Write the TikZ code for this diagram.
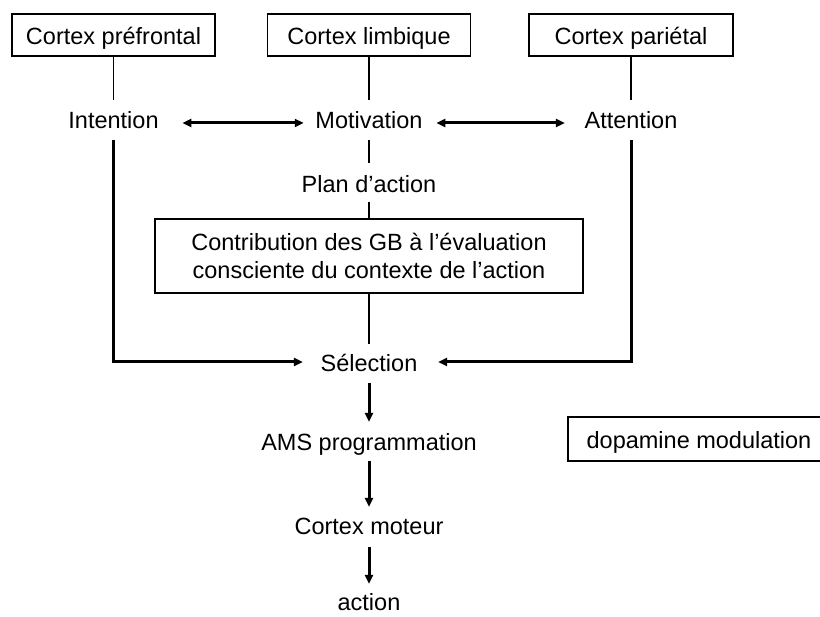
\documentclass[tikz,border=0pt]{standalone}
\usepackage{fontspec}
\setmainfont{Liberation Sans}
\usetikzlibrary{arrows.meta}
\begin{document}
\begin{tikzpicture}[x=1pt,y=-1pt,
  lbl/.style={inner sep=0pt, text height=17pt, text depth=5pt,
    font=\fontsize{23.5}{28}\selectfont, anchor=base},
  cbox/.style={draw, line width=1.6pt, inner sep=0pt, text height=20pt,
    text depth=0pt, font=\fontsize{23.5}{28}\selectfont, minimum height=42pt},
  thinln/.style={line width=1.2pt},
  heavy/.style={line width=3pt},
  headtip/.style={-{Triangle[length=9pt,width=8pt]}},
  twoway/.style={{Triangle[length=9pt,width=8pt]}-{Triangle[length=9pt,width=8pt]}},
]
\useasboundingbox (0,0) rectangle (820,617);

% cortical sources
\node[cbox, minimum width=203pt] (pf)  at (113.5,35) {Cortex préfrontal};
\node[cbox, minimum width=203pt] (lim) at (369,35)   {Cortex limbique};
\node[cbox, minimum width=204pt] (par) at (631,35)   {Cortex pariétal};

% functions
\node[lbl] (int) at (113.5,129) {Intention};
\node[lbl] (mot) at (369,129)   {Motivation};
\node[lbl] (att) at (631,129)   {Attention};

\node[lbl] (plan) at (369,193) {Plan d’action};

\node[draw, line width=1.6pt, inner sep=0pt, minimum width=428pt, minimum height=74pt,
  align=center, font=\fontsize{23.5}{28}\selectfont] (gb) at (369,256)
  {Contribution des GB à l’évaluation\\consciente du contexte de l’action};

\node[lbl] (sel)  at (369,372) {Sélection};
\node[lbl] (ams)  at (369,451) {AMS programmation};
\node[lbl] (mtr)  at (369,535) {Cortex moteur};
\node[lbl] (act)  at (369,610) {action};

\node[cbox, minimum width=262pt, minimum height=44pt] (dopa) at (699,439) {dopamine modulation};

% thin links
\draw[thinln, shorten >=12pt] (pf.south) -- (int.north);
\draw[thinln, shorten >=12pt] (lim.south) -- (mot.north);
\draw[thinln, shorten >=12pt] (par.south) -- (att.north);
\draw[thinln, shorten <=6pt, shorten >=13pt] (mot.south) -- (plan.north);
\draw[thinln, shorten <=4pt] (plan.south) -- (gb.north);
\draw[thinln, shorten >=11pt] (gb.south) -- (sel.north);

% reciprocal links
\draw[heavy, twoway, shorten <=23.5pt, shorten >=11.5pt] (int.east) -- (mot.west);
\draw[heavy, twoway, shorten <=13.5pt, shorten >=19.5pt] (mot.east) -- (att.west);

% convergence on selection
\draw[heavy, headtip, shorten <=6pt, shorten >=17.5pt] (int.south) |- ([yshift=4pt]sel.west);
\draw[heavy, headtip, shorten <=6pt, shorten >=20.5pt] (att.south) |- ([yshift=4pt]sel.east);

% motor chain
\draw[heavy, headtip, shorten <=6pt, shorten >=12pt] (sel.south) -- (ams.north);
\draw[heavy, headtip, shorten <=5pt, shorten >=11pt] (ams.south) -- (mtr.north);
\draw[heavy, headtip, shorten <=7pt, shorten >=9pt] (mtr.south) -- (act.north);
\end{tikzpicture}
\end{document}
